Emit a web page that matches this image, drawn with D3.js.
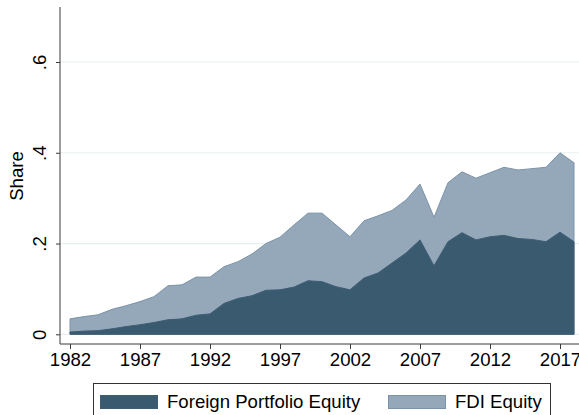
<!DOCTYPE html>
<html>
<head>
<meta charset="utf-8">
<script src="https://cdn.jsdelivr.net/npm/d3@7"></script>
<style>
  body { margin: 0; background: #fff; }
  text { font-family: "Liberation Sans", Arial, sans-serif; fill: #000; }
  .axis path, .axis line { stroke: #3a3a3a; }
</style>
</head>
<body>
<div id="chart"></div>
<script>
// years and shares
var years = [1982,1983,1984,1985,1986,1987,1988,1989,1990,1991,1992,1993,1994,1995,1996,1997,1998,1999,
             2000,2001,2002,2003,2004,2005,2006,2007,2008,2009,2010,2011,2012,2013,2014,2015,2016,2017,2018];

var portfolio = [.005,.007,.008,.012,.017,.021,.026,.032,.034,.042,.045,.068,.079,.085,.097,.098,.104,.118,
                 .116,.105,.098,.124,.135,.157,.179,.208,.151,.204,.224,.208,.215,.218,.211,.209,.204,.225,.204];

var fdi = [.029,.032,.035,.043,.046,.051,.057,.075,.075,.084,.081,.081,.081,.092,.103,.116,.137,.149,
           .151,.136,.117,.126,.126,.116,.117,.123,.107,.130,.134,.136,.141,.150,.151,.156,.164,.175,.174];

var yTicks = [0, .2, .4, .6];
var xTicks = [1982, 1987, 1992, 1997, 2002, 2007, 2012, 2017];
var seriesNames = ["Foreign Portfolio Equity", "FDI Equity"];

var width = 579, height = 415;
var fontSize = 18.6;
var colors = ["#3a5a70", "#95a8ba"];
var lineColors = ["#3e5d73", "#7b93aa"];

var svg = d3.select("#chart").append("svg")
    .attr("width", width)
    .attr("height", height);

var x = d3.scaleLinear()
    .domain([1982, 2018])
    .range([70, 574]);

var y = d3.scaleLinear()
    .domain([0, .6])
    .range([334.3, 62]);

// gridlines
svg.append("g")
    .selectAll("line")
    .data(yTicks)
    .enter()
    .append("line")
    .attr("x1", 60)
    .attr("x2", width)
    .attr("y1", function(d) { return y(d); })
    .attr("y2", function(d) { return y(d); })
    .attr("stroke", "#e8f0f1")
    .attr("stroke-width", 1.2);

// stack the two series
var rows = years.map(function(yr, i) {
    return {year: yr, portfolio: portfolio[i], fdi: fdi[i]};
});
var stacked = d3.stack().keys(["portfolio", "fdi"])(rows);

var area = d3.area()
    .x(function(d) { return x(d.data.year); })
    .y0(function(d) { return y(0); })
    .y1(function(d) { return y(d[1]); });

// draw the total first (light), then portfolio on top (dark)
svg.selectAll(".area")
    .data(stacked.slice().reverse())
    .enter()
    .append("path")
    .attr("class", "area")
    .attr("fill", function(d) { return colors[d.index]; })
    .attr("stroke", function(d) { return lineColors[d.index]; })
    .attr("stroke-width", 1)
    .attr("stroke-linejoin", "round")
    .attr("d", area);

// axes
var xAxis = d3.axisBottom(x)
    .tickValues(xTicks)
    .tickFormat(d3.format("d"))
    .tickSize(5)
    .tickSizeOuter(0);

var gX = svg.append("g")
    .attr("class", "axis")
    .attr("transform", "translate(0,344)")
    .call(xAxis);
gX.select(".domain").remove();
gX.append("line")
    .attr("x1", 60).attr("x2", width)
    .attr("y1", 0).attr("y2", 0);
gX.selectAll("text")
    .attr("font-size", fontSize)
    .attr("dy", "0.71em")
    .attr("y", 8.5);

var yAxis = d3.axisLeft(y)
    .tickValues(yTicks)
    .tickFormat(function(d) { return d === 0 ? "0" : d3.format(".1f")(d).replace(/^0/, ""); })
    .tickSize(4)
    .tickSizeOuter(0);

var gY = svg.append("g")
    .attr("class", "axis")
    .attr("transform", "translate(60,0)")
    .call(yAxis);
gY.select(".domain").remove();
gY.append("line")
    .attr("x1", 0).attr("x2", 0)
    .attr("y1", 7).attr("y2", 344);
gY.selectAll(".tick text")
    .attr("font-size", fontSize)
    .attr("text-anchor", "middle")
    .attr("x", null)
    .attr("dy", null)
    .attr("transform", "translate(-14,0) rotate(-90)");

svg.append("text")
    .attr("transform", "translate(23,176) rotate(-90)")
    .attr("text-anchor", "middle")
    .attr("font-size", fontSize)
    .text("Share");

// legend
var legend = svg.append("g");
legend.append("rect")
    .attr("x", 93.5)
    .attr("y", 383.5)
    .attr("width", 457)
    .attr("height", 40)
    .attr("fill", "#fff")
    .attr("stroke", "#333");

var legX = [100, 388];
var items = legend.selectAll(".item")
    .data(seriesNames)
    .enter()
    .append("g")
    .attr("class", "item")
    .attr("transform", function(d, i) { return "translate(" + legX[i] + ",0)"; });

items.append("rect")
    .attr("x", 0.5)
    .attr("y", 395.5)
    .attr("width", 57)
    .attr("height", 13)
    .attr("fill", function(d, i) { return colors[i]; })
    .attr("stroke", function(d, i) { return lineColors[i]; });

items.append("text")
    .attr("x", 67)
    .attr("y", 408)
    .attr("font-size", fontSize)
    .text(function(d) { return d; });
</script>
</body>
</html>
